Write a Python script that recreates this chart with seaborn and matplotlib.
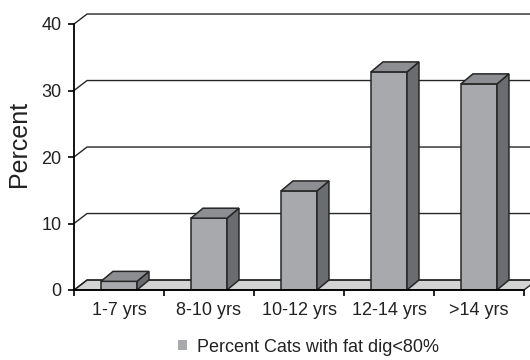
import numpy as np
import pandas as pd
import matplotlib
matplotlib.use("Agg")
import matplotlib.pyplot as plt
from matplotlib.patches import Polygon, Patch
import seaborn as sns

# Share of cats with fat digestibility below 80%, by age group
age_groups = ["1-7 yrs", "8-10 yrs", "10-12 yrs", "12-14 yrs", ">14 yrs"]
percent_values = [1.3, 10.8, 14.9, 32.8, 31.0]
y_ticks = [0, 10, 20, 30, 40]
series_name = "Percent Cats with fat dig<80%"
y_title = "Percent"

df = pd.DataFrame({"age": age_groups, "pct": percent_values})

sns.set_theme(style="white")
plt.rcParams["font.family"] = ["Liberation Sans", "DejaVu Sans"]

FRONT = "#a8a9ac"
SIDE = "#6b6c70"
TOP = "#8d8e91"
FLOOR = "#d3d3d4"
EDGE = "#262626"

fig = plt.figure(figsize=(5.3, 3.6), dpi=100)
ax = fig.add_axes([74 / 530, 70 / 360, 450 / 530, 266 / 360])

sns.barplot(data=df, x="age", y="pct", color=FRONT, width=0.4,
            edgecolor=EDGE, linewidth=1.1, saturation=1, ax=ax, zorder=3)

ax.set_xlim(-0.5, len(age_groups) - 0.5)
ax.set_ylim(0, 40)

# depth of the 3-D box (in data units)
wall_dx, wall_dy = 0.145, 1.5
bar_dx, bar_dy = 0.133, 1.5

x0, x1 = ax.get_xlim()

bar_patches = list(ax.patches)

# floor slab
floor = Polygon([(x0, 0), (x1, 0), (x1 + wall_dx, wall_dy), (x0 + wall_dx, wall_dy)],
                closed=True, facecolor=FLOOR, edgecolor=EDGE, linewidth=1.0,
                clip_on=False, zorder=1)
ax.add_patch(floor)

# gridlines on the back wall, joined to the value axis by short diagonals
for v in y_ticks:
    ax.plot([x0, x0 + wall_dx, x1 + wall_dx + 0.2], [v, v + wall_dy, v + wall_dy],
            color=EDGE, linewidth=1.0, clip_on=False, zorder=1.5,
            solid_joinstyle="miter")

# top and side faces of each column
for p in bar_patches:
    bx, bw, bh = p.get_x(), p.get_width(), p.get_height()
    top = Polygon([(bx, bh), (bx + bw, bh), (bx + bw + bar_dx, bh + bar_dy),
                   (bx + bar_dx, bh + bar_dy)], closed=True, facecolor=TOP,
                  edgecolor=EDGE, linewidth=1.1, clip_on=False, zorder=3)
    side = Polygon([(bx + bw, 0), (bx + bw + bar_dx, bar_dy),
                    (bx + bw + bar_dx, bh + bar_dy), (bx + bw, bh)], closed=True,
                   facecolor=SIDE, edgecolor=EDGE, linewidth=1.1, clip_on=False,
                   zorder=3)
    ax.add_patch(side)
    ax.add_patch(top)

# axes lines
for s in ["top", "right"]:
    ax.spines[s].set_visible(False)
for s in ["left", "bottom"]:
    ax.spines[s].set_color("black")
    ax.spines[s].set_linewidth(1.3)
    ax.spines[s].set_zorder(4)

ax.set_yticks(y_ticks)
ax.set_yticklabels([str(t) for t in y_ticks])
ax.set_xticks(np.arange(x0, x1 + 0.01, 1.0))
ax.set_xticklabels([""] * len(np.arange(x0, x1 + 0.01, 1.0)))
ax.set_xticks(range(len(age_groups)), minor=True)
ax.set_xticklabels(age_groups, minor=True)

ax.tick_params(axis="y", which="major", direction="out", length=4, width=1.2,
               color="black", labelsize=13, labelcolor="#222222", pad=5, left=True)
ax.tick_params(axis="x", which="major", direction="out", length=4, width=1.2,
               color="black", bottom=True)
ax.tick_params(axis="x", which="minor", length=0, labelsize=13,
               labelcolor="#222222", pad=8.5)

ax.set_xlabel("")
ax.set_ylabel(y_title, fontsize=18, color="#222222")
ax.yaxis.set_label_coords(-0.095, 0.55)

handle = Patch(facecolor=FRONT, edgecolor="none", label=series_name)
ax.legend(handles=[handle], loc="center", bbox_to_anchor=(0.582, 0.036),
          bbox_transform=fig.transFigure, frameon=False, fontsize=13,
          handlelength=0.5, handleheight=0.5, handletextpad=0.55,
          labelcolor="#222222")

fig.savefig("out.png", dpi=100)
